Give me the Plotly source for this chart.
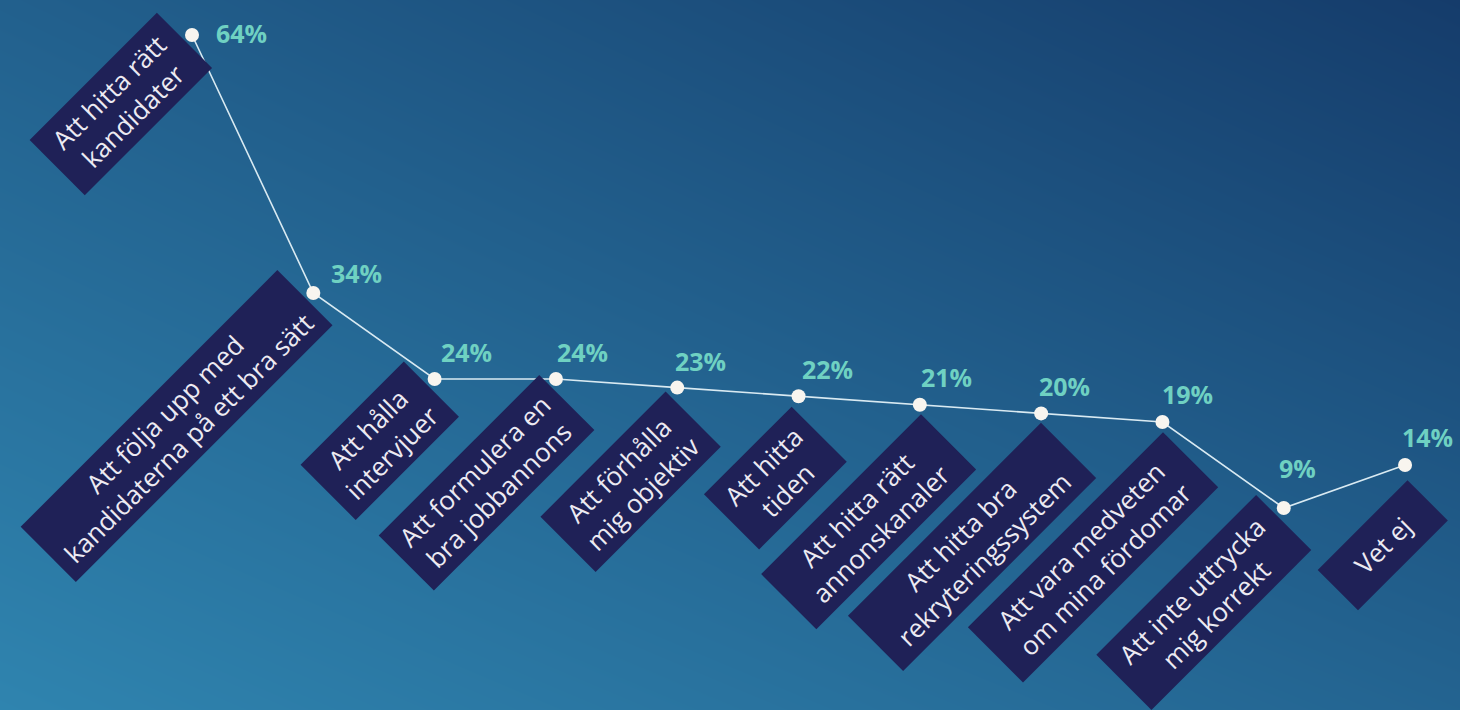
import plotly.graph_objects as go

# ---------------- data ----------------
categories = [
    "Att hitta rätt<br>kandidater",
    "Att följa upp med<br>kandidaterna på ett bra sätt",
    "Att hålla<br>intervjuer",
    "Att formulera en<br>bra jobbannons",
    "Att förhålla<br>mig objektiv",
    "Att hitta<br>tiden",
    "Att hitta rätt<br>annonskanaler",
    "Att hitta bra<br>rekryteringssystem",
    "Att vara medveten<br>om mina fördomar",
    "Att inte uttrycka<br>mig korrekt",
    "Vet ej",
]
values = [64, 34, 24, 24, 23, 22, 21, 20, 19, 9, 14]
value_labels = [f"{v}%" for v in values]

# ---------------- style (pixels) ----------------
box_w = [180, 363, 146, 227, 177, 124, 226, 273, 276, 226, 127]
box_h = [78, 78, 78, 78, 78, 78, 78, 78, 78, 78, 57]
corner_dx = [-35, -36, -31, -17, -12, -7, 1, 0, 1, -27, 2]
corner_dy = [-22, -23, -17, -4, 4, 10, 10, 10, 10, -13, 15]
pct_dx = [49, 43, 32, 27, 23, 29, 27, 23, 25, 14, 22]
pct_dy = [-2, -20, -27, -27, -27, -27, -28, -27, -28, -40, -28]

BOX_COLOR = "#1f2157"
PCT_COLOR = "#6fd1c2"
BG_COLORS = [[0, "#2f84af"], [1, "#153c6b"]]
bg_z = [[0.0, 0.45], [0.5, 1.0]]  # rows: bottom, top ; cols: left, right

fig = go.Figure()

# gradient background
fig.add_trace(go.Heatmap(
    x=[0, 1], y=[0, 1], z=bg_z, colorscale=BG_COLORS, zsmooth="best",
    showscale=False, hoverinfo="skip", xaxis="x", yaxis="y",
))

# line
fig.add_trace(go.Scatter(
    x=categories, y=values, mode="lines+markers",
    line=dict(color="#d9eaf2", width=1.6),
    marker=dict(size=14, color="#f8f5ef", line=dict(width=0)),
    xaxis="x2", yaxis="y2", hoverinfo="skip", cliponaxis=False,
))

c = 0.70710678
annotations = []
for i, (cat, v) in enumerate(zip(categories, values)):
    w, h = box_w[i], box_h[i]
    cx = corner_dx[i] + c * (h - w) / 2
    cy = corner_dy[i] + c * (w + h) / 2
    annotations.append(dict(
        x=cat, y=v, xref="x2", yref="y2", text=cat, showarrow=False,
        textangle=-45, xanchor="center", yanchor="middle",
        xshift=cx, yshift=-cy, width=w, height=h,
        bgcolor=BOX_COLOR, borderpad=0, borderwidth=0,
        font=dict(family="Open Sans", size=26, color="#eceaf2"),
        align="center", valign="middle",
    ))
    annotations.append(dict(
        x=cat, y=v, xref="x2", yref="y2", text=value_labels[i], showarrow=False,
        xanchor="center", yanchor="middle",
        xshift=pct_dx[i], yshift=-pct_dy[i],
        font=dict(family="Open Sans", size=25, color=PCT_COLOR, weight=700),
    ))

fig.update_layout(
    width=1460, height=710, autosize=False,
    margin=dict(l=0, r=0, t=0, b=0),
    paper_bgcolor="#1f5f93", plot_bgcolor="rgba(0,0,0,0)",
    showlegend=False,
    xaxis=dict(range=[0, 1], visible=False, domain=[0, 1], fixedrange=True),
    yaxis=dict(range=[0, 1], visible=False, domain=[0, 1], fixedrange=True),
    xaxis2=dict(overlaying="x", anchor="y2", type="category",
                range=[-1.583, 10.453], visible=False, fixedrange=True),
    yaxis2=dict(overlaying="y", anchor="x2",
                range=[-14.49, 68.07], visible=False, fixedrange=True),
    annotations=annotations,
)

fig.write_html("out.html")
